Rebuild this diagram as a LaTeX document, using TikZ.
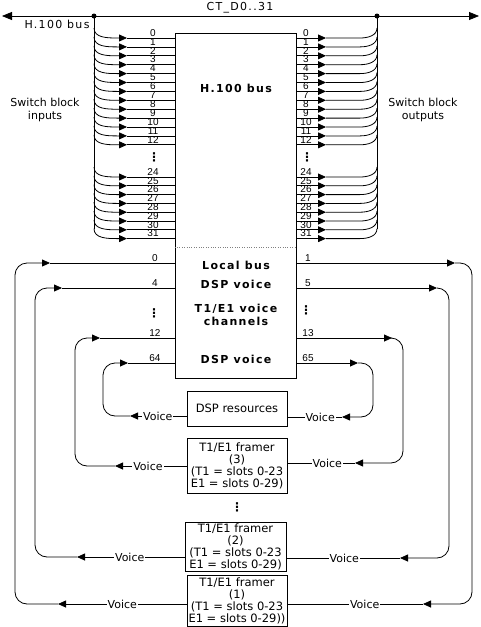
\documentclass[tikz,border=0pt]{standalone}
\usepackage{fontspec}
\setmainfont{DejaVu Sans}
\newfontfamily\numfont{Liberation Sans}
\newfontfamily\widefont{DejaVu Sans}[LetterSpace=12]
\usetikzlibrary{positioning,arrows.meta}

\begin{document}
\begin{tikzpicture}[
  x=1pt, y=-1pt,
  wire/.style={line width=0.8pt},
  tip/.style={wire, -{Triangle[length=8pt,width=7pt]}},
  box/.style={draw, line width=0.8pt, align=center, inner sep=0.5pt, font=\fontsize{11.5}{12}\selectfont},
  boxlab/.style={font=\widefont\bfseries\fontsize{11}{13}\selectfont, align=center, inner sep=0pt},
  note/.style={font=\fontsize{11}{13}\selectfont, align=center, inner sep=0pt},
  toplab/.style={font=\widefont\fontsize{11}{13}\selectfont, inner sep=0pt},
  voice/.style={font=\fontsize{11}{13}\selectfont, fill=white, inner sep=1pt},
  rowlab/.style={font=\numfont\fontsize{10}{10}\selectfont, inner sep=0.5pt, anchor=south},
  vdots/.style={font=\bfseries\fontsize{12}{12}\selectfont, inner sep=0pt}
]
\useasboundingbox (0,0) rectangle (481,627);

% H.100 bus on top
\coordinate (westend) at (2,16);
\coordinate (eastend) at (479,16);
\coordinate (busL) at (94,16);
\coordinate (busR) at (377,16);
\draw[wire, {Triangle[length=10pt,width=8pt]}-{Triangle[length=10pt,width=8pt]}] (westend) -- (eastend);
\fill (busL) circle[radius=2.5pt];
\fill (busR) circle[radius=2.5pt];
\node[toplab] (ct) at (240,8) {CT\_D0..31};
\node[toplab] (hbus) at (57,24) {H.100 bus};

% switch block
\node[draw, line width=0.8pt, minimum width=121pt, minimum height=345pt] (sw) at (235.5,205.5) {};
\draw[dotted, gray] (sw.west |- 0,247) -- (sw.east |- 0,247);
\node[boxlab] (t0) at (236,88) {H.100 bus};
\node[boxlab] (t1) at (236,265) {Local bus};
\node[boxlab] (t2) at (236,284) {DSP voice};
\node[boxlab] (t3) at (236,315) {T1/E1 voice\\channels};
\node[boxlab] (t4) at (236,359) {DSP voice};

\node[note] (swin) at (45,110) {Switch block\\inputs};
\node[note] (swout) at (423,110) {Switch block\\outputs};

\draw[wire] (busL) -- (busL |- 0,229);
\draw[wire] (busR) -- (busR |- 0,229);

% bus time slots
\foreach \k in {0,1,2,3,4,5,6,7,8,9,10,11,12,24,25,26,27,28,29,30,31} {
  \pgfmathsetmacro{\y}{\k<13 ? 38+8.9*\k : 177+8.8*(\k-24)}
  \coordinate (in\k) at (127,\y);
  \coordinate (out\k) at (326,\y);
  \draw[tip] (busL |- 0,{\y-10}) to[out=-90,in=180] (117,\y) -- (in\k);
  \draw[wire] (in\k) -- (sw.west |- in\k);
  \draw[tip] (sw.east |- out\k) -- (out\k);
  \draw[wire] (out\k) -- (360,\y) to[out=0,in=-90] (busR |- 0,{\y-10});
  \node[rowlab] (li\k) at (153,\y-1) {\k};
  \node[rowlab] (lo\k) at (306,\y-1) {\k};
}
\node[vdots] (dl) at (154,157) {⋮};
\node[vdots] (dr) at (307,157) {⋮};

% resources below
\node[box, minimum width=100pt, minimum height=35pt] (dsp) at (237,408.5) {DSP resources};
\node[box, minimum width=100pt, minimum height=55pt] (fr3) at (237,465.5) {T1/E1 framer\\(3)\\(T1 = slots 0-23\\E1 = slots 0-29)};
\node[vdots] (fdots) at (237,507) {⋮};
\node[box, minimum width=101pt, minimum height=49pt] (fr2) at (235.5,546.5) {T1/E1 framer\\(2)\\(T1 = slots 0-23\\E1 = slots 0-29)};
\node[box, minimum width=100pt, minimum height=51pt] (fr1) at (237,600.5) {T1/E1 framer\\(1)\\(T1 = slots 0-23\\E1 = slots 0-29))};

% voice into the local bus
\foreach \n/\src/\by/\bx/\vx/\ty/\tx/\lab/\vp in {a/fr1/604/58/15/263/50/0/0.5, b/fr2/557/77/35/288/62/4/0.51, c/fr3/466/115/75/338/100/12/0.54, d/dsp/416/130/103/363/128/64/0.51} {
  \coordinate (lbot\n) at (\bx,\by);
  \coordinate (ltop\n) at (\tx,\ty);
  \draw[tip] (\src.west |- lbot\n) -- node[voice, pos=\vp] (vl\n) {Voice} (lbot\n);
  \draw[tip, rounded corners=12pt] (lbot\n) -| (\vx,\ty) -- (ltop\n);
  \draw[wire] (ltop\n) -- (sw.west |- ltop\n);
  \node[rowlab] (ll\n) at (155,\ty-1) {\lab};
}
\node[vdots] (dll) at (154,313) {⋮};

% voice out of the local bus
\foreach \n/\src/\ty/\tx/\vx/\by/\bx/\lab/\vp in {a/fr1/263/455/472/604/423/1/0.43, b/fr2/288/437/449/558/400/5/0.49, c/fr3/338/392/403/463/355/13/0.41, d/dsp/363/358/373/417/342/65/0.4} {
  \coordinate (rtop\n) at (\tx,\ty);
  \coordinate (rbot\n) at (\bx,\by);
  \draw[tip] (sw.east |- rtop\n) -- (rtop\n);
  \draw[tip, rounded corners=12pt] (rtop\n) -| (\vx,\by) -- (rbot\n);
  \draw[wire] (rbot\n) -- node[voice, pos=\vp] (vr\n) {Voice} (\src.east |- rbot\n);
  \node[rowlab] (lr\n) at (308,\ty-1) {\lab};
}
\node[vdots] (drr) at (306,310) {⋮};

\end{tikzpicture}
\end{document}
